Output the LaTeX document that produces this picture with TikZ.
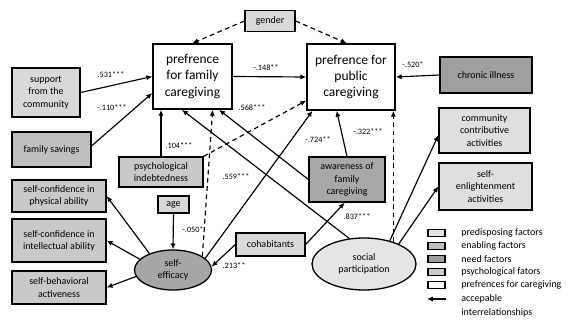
\documentclass[tikz,border=0pt]{standalone}
\usepackage{fontspec}
\setmainfont{Carlito}
\usetikzlibrary{positioning,arrows.meta,calc,shapes.geometric}

\begin{document}
\begin{tikzpicture}[
x=0.3mm, y=-0.3mm,
    every node/.style={
        align=center,
        inner sep=1pt,
        font=\fontsize{8.5}{10.5}\selectfont
    },
    factor/.style={draw, line width=1.1pt, rectangle},
    predisbox/.style={factor, fill=gray!30},
    enablbox/.style={factor, fill=gray!50},
    needbox/.style={factor, fill=gray!75},
    psychbox/.style={factor, fill=gray!42},
    prefbox/.style={draw, line width=1.4pt, fill=white, font=\fontsize{11.5}{14}\selectfont},
    conn/.style={line width=1pt, -{Latex[length=5pt,width=4.5pt]}},
    dashconn/.style={conn, dashed, dash pattern=on 4pt off 3pt},
    coef/.style={font=\fontsize{7}{8}\selectfont, inner sep=0pt}
]
\useasboundingbox (0,0) rectangle (574,320);

% outcome boxes
\node[prefbox, minimum width=23.7mm, minimum height=19.5mm] (family) at (192.5,76.5) {prefrence\\for family\\caregiving};
\node[prefbox, minimum width=26.4mm, minimum height=19.8mm] (public) at (351,77) {prefrence for\\public\\caregiving};

% factor boxes
\node[predisbox, minimum width=15mm, minimum height=6.3mm] (gender) at (270,21) {gender};
\node[predisbox, minimum width=20.4mm, minimum height=14.7mm] (support) at (46,92.5) {support\\from the\\community};
\node[enablbox, minimum width=23.7mm, minimum height=10.5mm] (savings) at (51.5,149.5) {family savings};
\node[psychbox, minimum width=25.2mm, minimum height=9mm] (indebt) at (161,172) {psychological\\indebtedness};
\node[predisbox, minimum width=9.3mm, minimum height=5.1mm] (age) at (173.5,204.5) {age};
\node[psychbox, minimum width=28.2mm, minimum height=9.6mm] (physical) at (59,196) {self-confidence in\\physical ability};
\node[psychbox, minimum width=28.2mm, minimum height=12.9mm] (intellect) at (59,240.5) {self-confidence in\\intellectual ability};
\node[psychbox, minimum width=28.2mm, minimum height=9.9mm] (behav) at (59,287.5) {self-behavioral\\activeness};
\node[ellipse, draw, line width=1.1pt, fill=gray!70, minimum width=23.1mm, minimum height=12mm, inner sep=0pt] (efficacy) at (173,270) {self-\\efficacy};
\node[predisbox, minimum width=20.7mm, minimum height=6.9mm] (cohab) at (270.5,244.5) {cohabitants};
\node[needbox, minimum width=22.8mm, minimum height=13.5mm, fill=gray!68] (aware) at (347,179.5) {awareness of\\family\\caregiving};
\node[ellipse, draw, line width=1.1pt, fill=gray!20, minimum width=31.2mm, minimum height=15.6mm, inner sep=0pt] (social) at (364,264) {social\\participation};
\node[needbox, minimum width=27.6mm, minimum height=10.8mm] (chronic) at (486,75) {chronic illness};
\node[predisbox, minimum width=27.3mm, minimum height=13.5mm, fill=gray!25] (contrib) at (484.5,130.5) {community\\contributive\\activities};
\node[predisbox, minimum width=27.9mm, minimum height=14.1mm, fill=gray!25] (enlight) at (485.5,186.5) {self-\\enlightenment\\activities};

% paths into the two preferences
\draw[dashconn] (gender.west) -- (family.north);
\draw[dashconn] (gender.east) -- ($(public.north west)!0.45!(public.north east)$);
\draw[conn] (support.east) -- (family.west);
\draw[conn] ($(savings.north east)!0.4!(savings.south east)$) -- ($(family.south west)!0.25!(family.north west)$);
\draw[conn] (family.east) -- (public.west);
\draw[conn] (chronic.west) -- (public.east);
\draw[conn] (indebt.north) -- (indebt.north |- family.south);
\draw[dashconn] (indebt.north east) -- ($(public.south west)!0.15!(public.north west)$);
\draw[dashconn] (efficacy.25) -- ($(family.south west)!0.75!(family.south east)$);
\draw[conn] (efficacy.20) -- ($(public.south west)!0.07!(public.south east)$);
\draw[conn] (social.120) -- ($(family.south west)!0.37!(family.south east)$);
\draw[conn] (aware.west) -- ($(family.south west)!0.83!(family.south east)$);
\draw[conn] (aware.north) -- ($(public.south west)!0.34!(public.south east)$);
\draw[dashconn] (social.37) -- (social.37 |- public.south);

% paths between the factors
\draw[conn] (age.south) -- (efficacy.north);
\draw[conn] (cohab.west) -- (efficacy.5);
\draw[conn] (cohab.east) -- ($(aware.south west)!0.47!(aware.south east)$);
\draw[conn] (efficacy.145) -- (physical.east);
\draw[conn] (efficacy.162) -- (intellect.east);
\draw[conn] (efficacy.190) -- (behav.east);
\draw[conn] (social.42) -- ($(contrib.south west)!0.4!(contrib.north west)$);
\draw[conn] (social.30) -- (enlight.west);

% coefficients
\node[coef] (c531) at (111,75) {.531***};
\node[coef] (c110) at (112,108) {-.110***};
\node[coef] (c148) at (266,68) {-.148**};
\node[coef] (c520) at (413,65) {-.520*};
\node[coef] (c104) at (179,146) {.104***};
\node[coef] (c568) at (252,108) {.568***};
\node[coef] (c724) at (318,140) {-.724**};
\node[coef] (c322) at (368,132) {-.322***};
\node[coef] (c559) at (236,177) {.559***};
\node[coef] (c837) at (357,217) {.837***};
\node[coef] (c050) at (193,230) {-.050*};
\node[coef] (c213) at (234,266) {.213**};

% legend
\node[predisbox, minimum width=5.1mm, minimum height=2.1mm, inner sep=0pt, fill=gray!22] (keypre) at (436.5,233) {};
\node[enablbox, minimum width=5.1mm, minimum height=2.1mm, inner sep=0pt] (keyena) at (436.5,246) {};
\node[needbox, minimum width=5.1mm, minimum height=2.1mm, inner sep=0pt] (keyneed) at (436.5,259) {};
\node[psychbox, minimum width=5.1mm, minimum height=2.1mm, inner sep=0pt] (keypsy) at (436.5,272) {};
\node[factor, minimum width=5.1mm, minimum height=2.1mm, inner sep=0pt, fill=white] (keypref) at (436.5,285) {};
\coordinate (keyfrom) at (446,299);
\coordinate (keyto) at (427,299);
\draw[conn] (keyfrom) -- (keyto);

\node[anchor=west] (txtpre) at (460,233) {predisposing factors};
\node[anchor=west] (txtena) at (460,246) {enabling factors};
\node[anchor=west] (txtneed) at (460,259) {need factors};
\node[anchor=west] (txtpsy) at (460,272) {psychological fators};
\node[anchor=west] (txtpref) at (460,285) {prefrences for caregiving};
\node[anchor=west, align=left, font=\fontsize{8.5}{11.5}\selectfont] (txtarr) at (460,306) {accepable\\interrelationships};
\end{tikzpicture}
\end{document}
